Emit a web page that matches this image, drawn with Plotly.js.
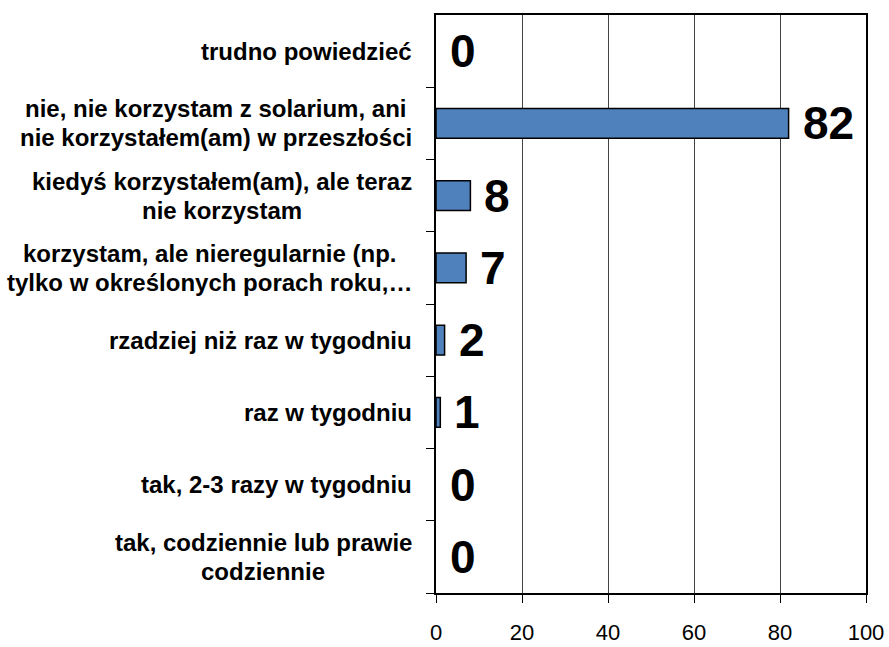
<!DOCTYPE html>
<html>
<head>
<meta charset="utf-8">
<script src="https://cdn.plot.ly/plotly-3.0.1.min.js"></script>
<style>html,body{margin:0;padding:0;background:#fff;}#chart{width:889px;height:647px;}</style>
</head>
<body>
<div id="chart"></div>
<script>
// Categories listed top to bottom
const categories = [
  "trudno powiedzieć",
  "nie, nie korzystam z solarium, ani\nnie korzystałem(am) w przeszłości",
  "kiedyś korzystałem(am), ale teraz\nnie korzystam",
  "korzystam, ale nieregularnie (np.\ntylko w określonych porach roku,…",
  "rzadziej niż raz w tygodniu",
  "raz w tygodniu",
  "tak, 2-3 razy w tygodniu",
  "tak, codziennie lub prawie\ncodziennie"
];
const values = [0, 82, 8, 7, 2, 1, 0, 0];
const xTicks = [0, 20, 40, 60, 80, 100];

const LABEL_SIZE = 24;
const LINE_PITCH = 29;
const LABEL_GAP = 24;
const labelFont = {family: "Liberation Sans, Arial, sans-serif", size: LABEL_SIZE, color: "#000", weight: "bold"};
const valueFont = {family: "Liberation Sans, Arial, sans-serif", size: 46, color: "#000", weight: "bold"};

const canvas = document.createElement("canvas");
const ctx = canvas.getContext("2d");
ctx.font = "bold " + LABEL_SIZE + "px 'Liberation Sans', Arial, sans-serif";

const annotations = [];
categories.forEach((c, i) => {
  const lines = c.split("\n");
  const w = Math.max(...lines.map(l => ctx.measureText(l).width));
  lines.forEach((line, k) => {
    annotations.push({
      xref: "paper", yref: "y", x: 0, y: i, xanchor: "center", yanchor: "middle",
      xshift: -(LABEL_GAP + w / 2),
      yshift: ((lines.length - 1) / 2 - k) * LINE_PITCH,
      text: line, showarrow: false, font: labelFont
    });
  });
  annotations.push({
    xref: "x", yref: "y", x: values[i], y: i, xanchor: "left", yanchor: "middle",
    xshift: 12, text: String(values[i]), showarrow: false, font: valueFont
  });
});

const trace = {
  type: "bar",
  orientation: "h",
  y: categories.map((c, i) => i),
  x: values,
  width: 0.415,
  marker: {color: "#4F81BD", line: {color: "#000", width: values.map(v => v > 0 ? 1.5 : 0)}},
  hoverinfo: "none"
};

const layout = {
  width: 889, height: 647,
  margin: {l: 436, r: 23, t: 15, b: 54},
  paper_bgcolor: "#fff", plot_bgcolor: "#fff",
  showlegend: false,
  xaxis: {
    range: [0, 100], tickvals: xTicks, ticktext: xTicks.map(String),
    showgrid: true, gridcolor: "#444", gridwidth: 1,
    showline: true, linecolor: "#000", linewidth: 2, mirror: true,
    ticks: "outside", ticklen: 8, tickcolor: "#000", tickwidth: 1,
    ticklabelstandoff: 11,
    zeroline: false,
    tickfont: {family: "Liberation Sans, Arial, sans-serif", size: 22, color: "#000"}
  },
  yaxis: {
    range: [categories.length - 0.5, -0.5],
    tickvals: categories.map((c, i) => i + 0.5),
    showticklabels: false,
    showgrid: false, zeroline: false,
    showline: true, linecolor: "#000", linewidth: 2, mirror: true,
    ticks: "outside", ticklen: 8, tickcolor: "#000", tickwidth: 1
  },
  annotations: annotations
};

Plotly.newPlot("chart", [trace], layout, {staticPlot: true, displayModeBar: false});
</script>
</body>
</html>
